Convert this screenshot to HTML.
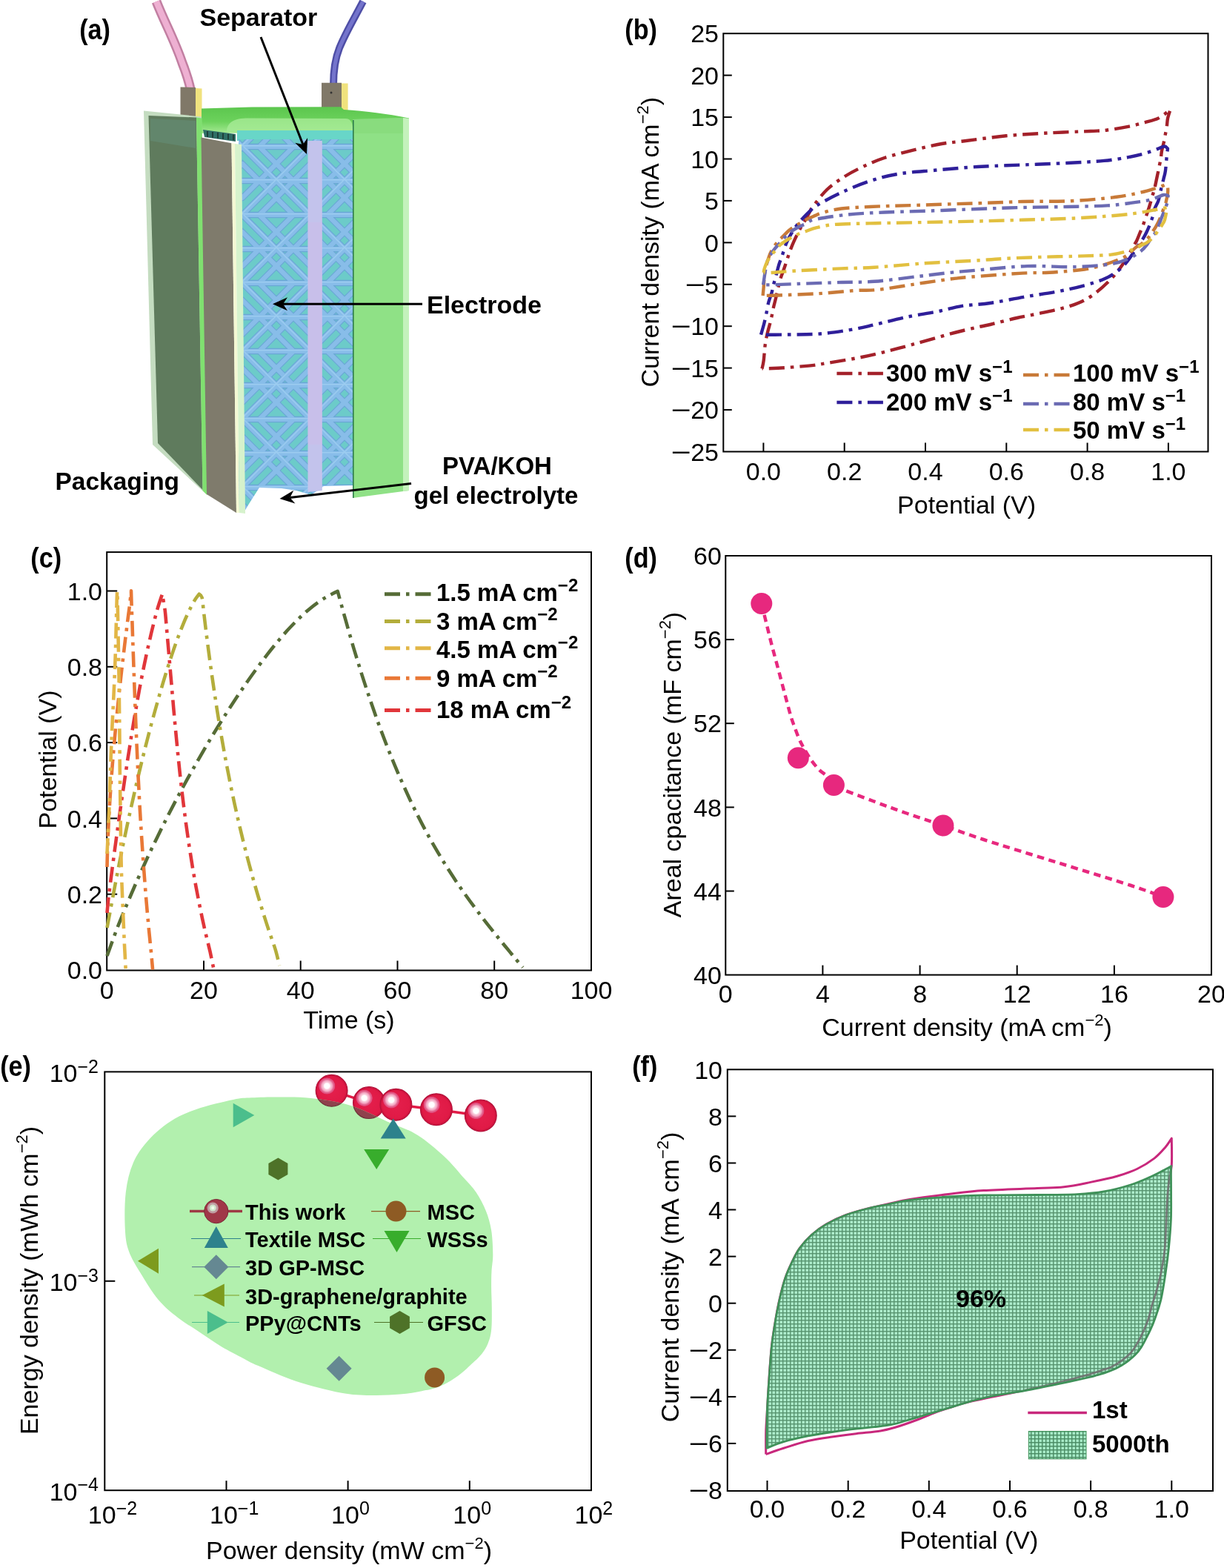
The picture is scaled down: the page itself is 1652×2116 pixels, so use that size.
<!DOCTYPE html>
<html><head><meta charset="utf-8"><title>Figure</title>
<style>html,body{margin:0;padding:0;background:#fff;}svg{display:block;}</style>
</head><body>
<svg xmlns="http://www.w3.org/2000/svg" width="1652" height="2116" viewBox="0 0 1652 2116" font-family='"Liberation Sans", Arial, Helvetica, sans-serif'>
<rect width="1652" height="2116" fill="#fff"/>
<defs>
<pattern id="latt" patternUnits="userSpaceOnUse" width="92" height="92" x="327" y="198">
<rect width="92" height="92" fill="#6ccbc9"/>
<g stroke="#6aa7d6" stroke-width="8.5" stroke-linecap="round" fill="none">
<path d="M0 0L92 92M92 0L0 92M0 0H92M0 46H92M0 92H92"/>
<path d="M0 23L69 92M23 0L92 69M0 69L69 0M23 92L92 23M-23 0L23 46"/>
</g>
<g stroke="#88bde9" stroke-width="6.2" stroke-linecap="round" fill="none">
<path d="M0 0L92 92M92 0L0 92M0 0H92M0 46H92M0 92H92"/>
<path d="M0 23L69 92M23 0L92 69M0 69L69 0M23 92L92 23"/>
</g>
<g stroke="#a4d4f4" stroke-width="1.4" fill="none" opacity="0.7">
<path d="M1 -1L93 91M91 -1L-1 91M0 44.8H92M0 -1.2H92M0 90.8H92"/>
</g>
</pattern>
<linearGradient id="lid" x1="0" y1="0" x2="0" y2="1">
<stop offset="0" stop-color="#5cc64e"/><stop offset="0.55" stop-color="#6cd25c"/><stop offset="1" stop-color="#a6ea94"/>
</linearGradient>
<linearGradient id="pinkw" x1="0" y1="0" x2="1" y2="0">
<stop offset="0" stop-color="#c58aa8"/><stop offset="0.45" stop-color="#f3b6d6"/><stop offset="1" stop-color="#c58aa8"/>
</linearGradient>
</defs>
<path d="M211 2C222 30 236 55 246 85C252 100 255 110 257.5 122" fill="none" stroke="#c27fa2" stroke-width="13"/>
<path d="M211 2C222 30 236 55 246 85C252 100 255 110 257.5 122" fill="none" stroke="#eeb0d2" stroke-width="8"/>
<path d="M490 2C478 25 466 45 458 65C452 80 450 95 450 115" fill="none" stroke="#4e4ea6" stroke-width="10"/>
<path d="M490 2C478 25 466 45 458 65C452 80 450 95 450 115" fill="none" stroke="#7474cc" stroke-width="5"/>
<polygon points="243.5,117.5 264,118 264,162 243.5,160" fill="#807868" />
<polygon points="264,119 272.5,119.5 272.5,165 264,163" fill="#f0e27e" />
<polygon points="434,111.7 461,111.7 461,148 434,148" fill="#807868" />
<polygon points="461,112.5 469.6,112.5 469.6,150 461,150" fill="#f0e27e" />
<circle cx="447" cy="125" r="1.5" fill="#333"/>
<path d="M272 146.5L340 144.5L460 144.3L464 148C490 150 520 152.5 552 159.5L552 178L272 180Z" fill="url(#lid)"/>
<path d="M306 178C306 168 312 160 332 159.5L466 160C474 160 476 166 476 176Z" fill="#a4ea94" opacity="0.85"/>
<polygon points="320,176 477,176 477,190 320,190" fill="#68d6c8" />
<polygon points="322,188 477,188 477,655 437,656 420,668 400,662 380,659 350,658 336,680 330,690 322,692" fill="url(#latt)" />
<polygon points="274,175 318,181 318,191 276,185" fill="#2f6f66" />
<line x1="280" y1="177" x2="280" y2="185" stroke="#1f3f3a" stroke-width="2" />
<line x1="287" y1="177.9" x2="287" y2="185.9" stroke="#1f3f3a" stroke-width="2" />
<line x1="294" y1="178.8" x2="294" y2="186.8" stroke="#1f3f3a" stroke-width="2" />
<line x1="301" y1="179.7" x2="301" y2="187.7" stroke="#1f3f3a" stroke-width="2" />
<line x1="308" y1="180.6" x2="308" y2="188.6" stroke="#1f3f3a" stroke-width="2" />
<line x1="315" y1="181.5" x2="315" y2="189.5" stroke="#1f3f3a" stroke-width="2" />
<polygon points="415.5,190 434.8,190 434.8,662 415.5,664" fill="#c3c3ec" />
<rect x="415.5" y="300" width="19.3" height="300" fill="#d0b8e8" opacity="0.35"/>
<polygon points="476,161 544,159 552,160 552,662 476,672" fill="#8fe186" />
<polygon points="544,159 552,160 552,662 544,663" fill="#c4f2bc" />
<polygon points="476,161 544,159 544,180 476,180" fill="#86d87a" opacity="0.6"/>
<line x1="476.8" y1="162" x2="476.8" y2="672" stroke="#2d7b4c" stroke-width="1.6" />
<polygon points="194,149.5 272,157.5 279.5,668 206,600" fill="#c4dcc0" />
<polygon points="200.5,156 265,158.5 273.5,661 213,598" fill="#5f7b5d" />
<polygon points="265,158.5 272.5,159.5 279.5,668 273.5,662" fill="#80e070" />
<path d="M203 160L264 163L264 200L203 190Z" fill="#6a9a8a" opacity="0.35"/>
<polygon points="271.5,185.5 312.5,193.3 319,692 279,667" fill="#7f7b6c" />
<polygon points="312.5,193 317,194 323,692 319,692" fill="#f4f8d4" />
<polygon points="317,194 326,195 331,693 323,692" fill="#d6f2cc" />
<line x1="352" y1="50" x2="408.9" y2="195" stroke="#000" stroke-width="3" />
<path d="M414 208 L398.3 192.7 L408.9 195 L415.1 186.1 Z" fill="#000"/>
<line x1="570" y1="410.3" x2="382" y2="410.3" stroke="#000" stroke-width="3" />
<path d="M368 410.3 L388 401.3 L382 410.3 L388 419.3 Z" fill="#000"/>
<line x1="555" y1="652.5" x2="391.4" y2="671.4" stroke="#000" stroke-width="3" />
<path d="M377.5 673 L396.3 661.8 L391.4 671.4 L398.4 679.6 Z" fill="#000"/>
<text transform="translate(107.2 52.6) scale(0.9 1)" font-size="38" font-weight="bold">(a)</text>
<text x="269.5" y="34.7" font-size="34" text-anchor="start" font-weight="bold" >Separator</text>
<text x="576" y="423.1" font-size="34" text-anchor="start" font-weight="bold" >Electrode</text>
<text x="597" y="640" font-size="33" text-anchor="start" font-weight="bold" >PVA/KOH</text>
<text x="558.5" y="680" font-size="33" text-anchor="start" font-weight="bold" >gel electrolyte</text>
<text x="74.5" y="660.5" font-size="33.5" text-anchor="start" font-weight="bold" >Packaging</text>
<text transform="translate(843.3 52.6) scale(0.9 1)" font-size="38" font-weight="bold">(b)</text>
<line x1="976.3" y1="553.1" x2="987.8" y2="553.1" stroke="#000" stroke-width="2" />
<line x1="976.3" y1="496.6" x2="987.8" y2="496.6" stroke="#000" stroke-width="2" />
<line x1="976.3" y1="440.2" x2="987.8" y2="440.2" stroke="#000" stroke-width="2" />
<line x1="976.3" y1="383.8" x2="987.8" y2="383.8" stroke="#000" stroke-width="2" />
<line x1="976.3" y1="327.4" x2="987.8" y2="327.4" stroke="#000" stroke-width="2" />
<line x1="976.3" y1="270.9" x2="987.8" y2="270.9" stroke="#000" stroke-width="2" />
<line x1="976.3" y1="214.5" x2="987.8" y2="214.5" stroke="#000" stroke-width="2" />
<line x1="976.3" y1="158.1" x2="987.8" y2="158.1" stroke="#000" stroke-width="2" />
<line x1="976.3" y1="101.6" x2="987.8" y2="101.6" stroke="#000" stroke-width="2" />
<text x="970" y="621.7" font-size="34" text-anchor="end">25</text>
<text transform="translate(919.4 621.7) scale(1.37 1)" font-size="34" text-anchor="middle">−</text>
<text x="970" y="565.3" font-size="34" text-anchor="end">20</text>
<text transform="translate(919.4 565.3) scale(1.37 1)" font-size="34" text-anchor="middle">−</text>
<text x="970" y="508.8" font-size="34" text-anchor="end">15</text>
<text transform="translate(919.4 508.8) scale(1.37 1)" font-size="34" text-anchor="middle">−</text>
<text x="970" y="452.4" font-size="34" text-anchor="end">10</text>
<text transform="translate(919.4 452.4) scale(1.37 1)" font-size="34" text-anchor="middle">−</text>
<text x="970" y="396" font-size="34" text-anchor="end">5</text>
<text transform="translate(938.3 396) scale(1.37 1)" font-size="34" text-anchor="middle">−</text>
<text x="970" y="339.6" font-size="34" text-anchor="end" font-weight="normal" >0</text>
<text x="970" y="283.1" font-size="34" text-anchor="end" font-weight="normal" >5</text>
<text x="970" y="226.7" font-size="34" text-anchor="end" font-weight="normal" >10</text>
<text x="970" y="170.3" font-size="34" text-anchor="end" font-weight="normal" >15</text>
<text x="970" y="113.8" font-size="34" text-anchor="end" font-weight="normal" >20</text>
<text x="970" y="57.4" font-size="34" text-anchor="end" font-weight="normal" >25</text>
<line x1="1030.4" y1="609.5" x2="1030.4" y2="597.5" stroke="#000" stroke-width="2" />
<text x="1030.4" y="648.3" font-size="34" text-anchor="middle" font-weight="normal" >0.0</text>
<line x1="1139.7" y1="609.5" x2="1139.7" y2="597.5" stroke="#000" stroke-width="2" />
<text x="1139.7" y="648.3" font-size="34" text-anchor="middle" font-weight="normal" >0.2</text>
<line x1="1249" y1="609.5" x2="1249" y2="597.5" stroke="#000" stroke-width="2" />
<text x="1249" y="648.3" font-size="34" text-anchor="middle" font-weight="normal" >0.4</text>
<line x1="1358.3" y1="609.5" x2="1358.3" y2="597.5" stroke="#000" stroke-width="2" />
<text x="1358.3" y="648.3" font-size="34" text-anchor="middle" font-weight="normal" >0.6</text>
<line x1="1467.6" y1="609.5" x2="1467.6" y2="597.5" stroke="#000" stroke-width="2" />
<text x="1467.6" y="648.3" font-size="34" text-anchor="middle" font-weight="normal" >0.8</text>
<line x1="1576.9" y1="609.5" x2="1576.9" y2="597.5" stroke="#000" stroke-width="2" />
<text x="1576.9" y="648.3" font-size="34" text-anchor="middle" font-weight="normal" >1.0</text>
<rect x="976.3" y="45.2" width="654.2" height="564.3" fill="none" stroke="#000" stroke-width="2"/>
<text x="1304.6" y="693" font-size="34" text-anchor="middle" font-weight="normal" >Potential (V)</text>
<text transform="translate(888.7 326.7) rotate(-90)" font-size="34" text-anchor="middle">Current density (mA cm<tspan font-size="22" dy="-14">−2</tspan><tspan dy="14">)</tspan></text>
<g>
<path d="M1028.5 497.4C1028.9 495.6 1030 491.9 1030.7 486.5C1031.4 481.1 1031.9 471.1 1032.8 464.8C1033.7 458.5 1034.7 453.9 1036 448.5C1037.3 443.1 1039.1 437.6 1040.4 432.2C1041.7 426.8 1042.6 420.8 1043.7 415.9C1044.8 411 1045.9 407.3 1047 402.8C1048.1 398.3 1049.1 393.2 1050.2 388.7C1051.3 384.2 1052.2 379.9 1053.5 375.7C1054.8 371.5 1056.5 367.5 1057.8 363.7C1059.1 359.9 1060.3 356.6 1061.6 352.8C1062.9 349 1063.7 345.6 1065.4 340.9C1067.1 336.2 1069.6 329.9 1072 324.6C1074.4 319.3 1077.3 313.7 1079.6 309.3C1081.9 304.9 1083.8 302.3 1086 298.5C1088.2 294.7 1090.8 289.8 1092.6 286.5C1094.4 283.2 1093.1 284.1 1097 279C1100.9 273.9 1108.9 262.8 1116 256C1123.1 249.2 1131.4 243.7 1139.5 238.5C1147.6 233.3 1155.6 229.2 1164.6 225C1173.6 220.8 1182.4 216.7 1193.7 213C1205 209.3 1219.5 205.8 1232.4 202.6C1245.3 199.4 1259.7 196 1271 194C1282.3 192 1285.5 192.3 1300 190.5C1314.5 188.7 1338.7 185.2 1358 183.3C1377.3 181.5 1397 180.5 1416 179.4C1435 178.3 1459.2 177.6 1472 177C1484.8 176.4 1484.3 176.8 1493 175.7C1501.7 174.6 1515.3 172.3 1523.9 170.6C1532.5 168.9 1537.8 167.3 1544.5 165.4C1551.2 163.5 1558 162.3 1563.8 159.4C1569.6 156.5 1577 149.8 1579.6 147.9C1579 149.9 1576.8 156.1 1576 160C1575.2 163.9 1575.3 167.8 1574.7 171.5C1574.1 175.2 1573.3 178.8 1572.6 182.4C1571.9 186 1571.3 189.8 1570.5 193.3C1569.7 196.8 1568.6 200.4 1568 203.6C1567.4 206.8 1567.4 209.3 1566.9 212.6C1566.4 215.9 1565.6 219.4 1564.8 223.5C1564 227.6 1563.1 231.9 1562 237C1560.9 242.1 1559.5 249.4 1558.4 253.9C1557.3 258.4 1556.4 260.7 1555.4 264.2C1554.4 267.7 1553.3 271.7 1552.3 275.1C1551.3 278.5 1550.3 281.8 1549.3 284.8C1548.3 287.8 1547.4 290.1 1546.3 293.3C1545.2 296.5 1544 300.7 1542.7 304.2C1541.4 307.7 1539.8 311.1 1538.4 314.5C1537 317.9 1535.6 321.8 1534.2 324.7C1532.8 327.6 1532.7 327.3 1530 332C1527.3 336.7 1523 345.3 1518 352.7C1513 360.1 1507.3 368.4 1499.7 376.3C1492.1 384.2 1481.6 393.8 1472.5 399.9C1463.4 405.9 1455.9 409 1445.3 412.6C1434.7 416.2 1421.1 419 1409 421.7C1396.9 424.4 1384.7 426.3 1372.6 429C1360.5 431.7 1345.2 435.9 1336.3 438C1327.4 440.1 1326.7 439.9 1319 441.7C1311.3 443.4 1302.1 445.4 1290.2 448.5C1278.3 451.6 1260.5 456.8 1247.8 460.3C1235.1 463.8 1224.5 466.9 1213.9 469.7C1203.3 472.5 1194 475 1184.2 477.3C1174.4 479.6 1166.4 481.4 1155 483.5C1143.6 485.6 1126.6 488.3 1116 490C1105.4 491.7 1102.5 492.5 1091.5 493.6C1080.5 494.7 1060.5 496.2 1050 496.8C1039.5 497.4 1032.1 497.3 1028.5 497.4" fill="none" stroke="#a3212a" stroke-width="4.4" stroke-dasharray="21 8 4.5 8"  stroke-linejoin="round"/>
<path d="M1027 451.7C1027.6 449.5 1029.5 443.2 1030.7 438.7C1031.9 434.2 1032.9 429.7 1034 424.6C1035.1 419.5 1036 413.2 1037.2 408.3C1038.5 403.4 1040.4 399 1041.5 395.2C1042.6 391.4 1042.8 389 1043.7 385.4C1044.6 381.8 1045.7 378.2 1047 373.5C1048.3 368.8 1049.9 361.9 1051.3 357.2C1052.7 352.5 1054 349.9 1055.6 345.2C1057.2 340.5 1059 333.9 1061 329C1063 324.1 1065 320.3 1067.6 315.9C1070.1 311.5 1073.4 306.6 1076.3 302.8C1079.2 299 1082.1 296.1 1085 293C1087.9 289.9 1090.8 287 1093.7 284.3C1096.7 281.6 1095.7 281.1 1102.7 277C1109.7 272.9 1123.7 265.2 1135.6 259.8C1147.5 254.4 1161.1 248.5 1174 244.3C1186.9 240.1 1198.4 237 1213 234.6C1227.6 232.2 1243.7 231.4 1261.5 229.8C1279.3 228.2 1299.8 226.2 1319.6 225C1339.3 223.8 1359.9 223.3 1380 222.5C1400.1 221.7 1421.7 220.9 1440 220C1458.3 219.1 1476.3 218.2 1490 216.9C1503.7 215.6 1513.2 213.8 1522 212.3C1530.8 210.8 1536 209.7 1542.7 207.8C1549.4 205.9 1557.2 202.8 1562 201.1C1566.8 199.4 1569.4 197.6 1571.7 197.5C1574 197.4 1575.3 200 1576 200.5C1575.8 202.3 1575.2 206.3 1574.7 211.4C1574.2 216.5 1573.6 225.8 1572.9 230.8C1572.2 235.8 1571.4 237.4 1570.5 241.2C1569.6 244.9 1568.3 250 1567.5 253.3C1566.7 256.6 1566.4 258.2 1565.7 261.2C1565 264.2 1564.5 268 1563.2 271.5C1561.9 275 1559.4 278.8 1558.1 282.4C1556.8 286 1556.5 289.8 1555.4 293.3C1554.3 296.8 1552.9 300.5 1551.7 303.6C1550.5 306.7 1549.5 309.1 1548.1 312C1546.7 314.9 1545.3 317.9 1543.3 321.1C1541.3 324.3 1539.6 326.1 1536 331.4C1532.4 336.7 1526 347 1521.5 352.7C1517 358.4 1513.9 361.5 1508.8 365.4C1503.7 369.3 1498.3 373 1490.7 376.3C1483.1 379.6 1474 382.4 1463.4 385.3C1452.8 388.2 1440.6 390.9 1427 393.5C1413.4 396.1 1396.8 398.2 1381.7 400.8C1366.6 403.4 1350.2 407 1336.3 409C1322.4 411 1310.5 411 1298.6 412.9C1286.7 414.8 1277.4 418 1264.7 420.5C1252 423 1236.5 425.1 1222.4 428.1C1208.3 431.1 1191.2 435.7 1180 438.3C1168.8 440.9 1165.7 441.9 1155 443.8C1144.3 445.7 1127.1 448.4 1116 449.6C1104.9 450.8 1100 450.9 1088.3 451.2C1076.6 451.5 1056.1 451.6 1045.9 451.7C1035.7 451.8 1030.2 451.7 1027 451.7" fill="none" stroke="#2f1f9a" stroke-width="4.4" stroke-dasharray="21 8 4.5 8"  stroke-linejoin="round"/>
<path d="M1029.6 399C1029.8 397.1 1030.3 392 1030.7 387.6C1031.1 383.2 1031.2 377.1 1031.7 372.4C1032.2 367.7 1032.8 363.8 1033.9 359.3C1035 354.8 1036.7 349.4 1038.3 345.2C1039.9 341 1041.7 337.6 1043.7 334.3C1045.7 331.1 1048 328.2 1050.2 325.7C1052.4 323.2 1054.4 321.5 1056.7 319.1C1059 316.7 1061.6 313.9 1064.3 311.5C1067 309.1 1070.3 306.8 1073 305C1075.7 303.2 1077.8 302.3 1080.7 300.7C1083.6 299.1 1087.2 296.8 1090.4 295.2C1093.7 293.6 1096.9 292.3 1100.2 290.9C1103.5 289.5 1104.1 288.6 1110 287C1115.9 285.4 1124.9 282.8 1135.6 281.5C1146.3 280.2 1157.9 279.8 1174 279C1190.1 278.2 1208.1 277.8 1232.4 277C1256.7 276.2 1295 275.1 1319.6 274.3C1344.2 273.5 1359.9 272.5 1380 272C1400.1 271.5 1421.7 272.1 1440 271.4C1458.3 270.7 1478.8 268.8 1490 267.8C1501.2 266.9 1500.5 266.6 1507 265.7C1513.5 264.8 1521.9 263.5 1528.7 262.1C1535.5 260.8 1543.1 258.9 1548.1 257.6C1553 256.3 1555 255.6 1558.4 254.5C1561.8 253.4 1566.1 251.8 1568.7 250.9C1571.3 250 1572.9 248.8 1574.1 249.1C1575.3 249.4 1575.7 250.7 1576 252.7C1576.3 254.7 1576.4 257.8 1576 261.2C1575.6 264.6 1573.9 271.3 1573.5 273.3C1572.2 276.8 1568 288.9 1565.7 294.5C1563.4 300.1 1561.2 303.7 1559.6 306.6C1558 309.5 1557.5 309.8 1556 312C1554.5 314.2 1552.9 317.2 1550.5 319.9C1548.1 322.6 1544.5 326 1541.5 328.4C1538.5 330.8 1535.7 331.7 1532.4 334.4C1529.1 337.1 1525.4 341.8 1521.5 344.5C1517.6 347.2 1513.9 348.7 1508.8 350.8C1503.7 352.9 1495.8 355.6 1490.7 357.2C1485.6 358.8 1483.5 359.4 1478 360.6C1472.5 361.8 1468 363 1457.7 364.2C1447.4 365.4 1429.2 367.1 1416.3 367.8C1403.3 368.5 1397.3 367.7 1380 368.6C1362.7 369.6 1327.2 372.3 1312.2 373.5C1297.2 374.7 1300.9 374.3 1290.2 375.6C1279.5 376.9 1265.2 379 1247.8 381.5C1230.4 384 1201.5 389.1 1186 390.8C1170.5 392.6 1166.7 391.2 1155 392C1143.3 392.8 1126.4 394.6 1116 395.4C1105.6 396.2 1103.6 396.3 1092.6 396.8C1081.6 397.3 1060.7 398.1 1050.2 398.5C1039.7 398.9 1033 398.9 1029.6 399" fill="none" stroke="#c87a38" stroke-width="4.4" stroke-dasharray="21 8 4.5 8"  stroke-linejoin="round"/>
<path d="M1030.1 384.3C1030.4 382.5 1031.2 377.1 1031.7 373.5C1032.2 369.9 1032.7 366.2 1033.4 362.6C1034.1 359 1034.8 355 1036 351.7C1037.2 348.4 1038.8 345.7 1040.4 343C1042.1 340.3 1043.7 338.1 1045.9 335.4C1048.1 332.7 1050.8 329.8 1053.5 326.7C1056.2 323.6 1059.3 319.7 1062.2 317C1065.1 314.3 1068.2 312.2 1070.9 310.4C1073.6 308.6 1075.6 307.4 1078.5 306C1081.4 304.6 1084.7 303.4 1088.3 301.7C1091.9 300 1090.5 298 1100 296C1109.5 294 1129.4 291.1 1145 289.5C1160.6 287.9 1175.9 287.3 1193.7 286.5C1211.5 285.7 1231 285.4 1252 284.6C1273 283.9 1298.3 282.8 1319.6 282C1340.9 281.2 1359.9 280.5 1380 280C1400.1 279.5 1420.9 279.4 1440 279C1459.1 278.6 1480.4 278.2 1494.8 277.4C1509.2 276.5 1517.7 275 1526.3 273.9C1534.9 272.8 1541.3 271.9 1546.6 270.9C1551.8 269.9 1553.8 269.1 1557.8 267.8C1561.8 266.5 1567.4 263.6 1570.5 263C1573.6 262.4 1575.6 264 1576.6 264.2C1576.5 265.2 1576.4 268.1 1576 270.3C1575.6 272.5 1575.5 273.5 1574.1 277.5C1572.7 281.5 1569.3 289.8 1567.5 294.5C1565.7 299.2 1564.5 302.8 1563.2 306C1561.9 309.2 1560.9 311.7 1559.6 313.8C1558.3 315.9 1557.4 315.9 1555.4 318.7C1553.4 321.5 1550.1 327.4 1547.5 330.8C1544.9 334.2 1543.7 336 1539.7 339C1535.7 342 1530 346.1 1523.4 349C1516.8 351.9 1512.2 354.3 1499.9 356.2C1487.6 358.1 1468.6 359.7 1449.7 360.2C1430.8 360.7 1408.3 358.4 1386.5 359.1C1364.7 359.8 1336.5 363.1 1319 364.6C1301.5 366.1 1295 366.6 1281.7 368C1268.4 369.4 1256.2 371 1239.3 373C1222.3 375 1197.3 378.5 1180 379.8C1162.7 381.1 1152.7 380.5 1135.6 381C1118.5 381.5 1093.2 382.4 1077.5 383C1061.8 383.6 1049.4 384.1 1041.5 384.3C1033.6 384.5 1032 384.3 1030.1 384.3" fill="none" stroke="#6b6bb3" stroke-width="4.4" stroke-dasharray="21 8 4.5 8"  stroke-linejoin="round"/>
<path d="M1030.7 368C1030.9 367.1 1031 365 1031.7 362.6C1032.4 360.2 1033.5 356.8 1035 353.9C1036.5 351 1038.6 347.7 1040.4 345.2C1042.2 342.7 1043.9 341.1 1045.9 338.7C1047.9 336.3 1049.9 333.4 1052.4 331C1054.9 328.6 1057.9 326.6 1061 324.6C1064.1 322.6 1067.8 320.7 1070.9 319.1C1074 317.5 1076.5 316.1 1079.6 314.8C1082.7 313.5 1085.5 312.8 1089.3 311.5C1093.1 310.2 1096.3 308.6 1102.4 307.2C1108.5 305.8 1114.1 304 1126 303C1137.9 302 1156.3 301.8 1174 301.4C1191.7 300.9 1208.1 300.8 1232.4 300.3C1256.7 299.8 1295 299.1 1319.6 298.5C1344.2 297.9 1359.9 297.3 1380 296.7C1400.1 296.1 1421.7 295.8 1440 295C1458.3 294.2 1475.2 293.1 1490 292C1504.8 290.9 1517.1 289.9 1528.7 288.4C1540.3 286.9 1551.8 284.4 1559.6 283C1567.4 281.6 1572.8 280.5 1575.4 280C1575.2 281.2 1574.7 284.3 1574.1 287.2C1573.5 290.1 1572.6 294.9 1571.7 297.5C1570.8 300.1 1570 300.9 1568.7 303C1567.4 305.1 1565.8 307.4 1563.8 310.2C1561.8 313 1559.2 317.1 1556.6 319.9C1554 322.7 1550.7 325.4 1548.1 327.2C1545.5 329 1543.4 329.4 1540.8 330.8C1538.2 332.2 1535.8 334.2 1532.4 335.6C1529 337 1525.8 338 1520.3 339.3C1514.8 340.6 1509.2 342.6 1499.7 343.6C1490.2 344.6 1478.5 344.9 1463.4 345.4C1448.3 345.9 1427.2 346.2 1409 346.8C1390.8 347.4 1370.6 348.1 1354.5 349C1338.4 349.9 1330 350.8 1312.2 351.9C1294.4 352.9 1269.8 353.8 1247.8 355.3C1225.8 356.8 1198.7 359.6 1180 360.8C1161.3 362 1152.7 361.6 1135.6 362.4C1118.5 363.1 1093.4 364.4 1077.5 365.3C1061.6 366.2 1048.2 367.6 1040.4 368C1032.6 368.4 1032.3 368 1030.7 368" fill="none" stroke="#e2c040" stroke-width="4.4" stroke-dasharray="21 8 4.5 8"  stroke-linejoin="round"/>
</g>
<line x1="1129.4" y1="504" x2="1193" y2="504" stroke="#a3212a" stroke-width="4.6" stroke-dasharray="21 8 4.5 8"/>
<text x="1196" y="515.1" font-size="33" font-weight="bold">300 mV s<tspan font-size="24" dy="-12.5">−1</tspan></text>
<line x1="1129.4" y1="543" x2="1193" y2="543" stroke="#2f1f9a" stroke-width="4.6" stroke-dasharray="21 8 4.5 8"/>
<text x="1196" y="554.2" font-size="33" font-weight="bold">200 mV s<tspan font-size="24" dy="-12.5">−1</tspan></text>
<line x1="1381" y1="506" x2="1445" y2="506" stroke="#c87a38" stroke-width="4.6" stroke-dasharray="21 8 4.5 8"/>
<text x="1448" y="515.1" font-size="33" font-weight="bold">100 mV s<tspan font-size="24" dy="-12.5">−1</tspan></text>
<line x1="1381" y1="545" x2="1445" y2="545" stroke="#6b6bb3" stroke-width="4.6" stroke-dasharray="21 8 4.5 8"/>
<text x="1448" y="554.2" font-size="33" font-weight="bold">80 mV s<tspan font-size="24" dy="-12.5">−1</tspan></text>
<line x1="1381" y1="580" x2="1445" y2="580" stroke="#e2c040" stroke-width="4.6" stroke-dasharray="21 8 4.5 8"/>
<text x="1448" y="592" font-size="33" font-weight="bold">50 mV s<tspan font-size="24" dy="-12.5">−1</tspan></text>
<text transform="translate(41.3 765.8) scale(0.9 1)" font-size="38" font-weight="bold">(c)</text>
<line x1="144.2" y1="1206.7" x2="158.2" y2="1206.7" stroke="#000" stroke-width="2" />
<line x1="144.2" y1="1104.4" x2="158.2" y2="1104.4" stroke="#000" stroke-width="2" />
<line x1="144.2" y1="1002.1" x2="158.2" y2="1002.1" stroke="#000" stroke-width="2" />
<line x1="144.2" y1="899.8" x2="158.2" y2="899.8" stroke="#000" stroke-width="2" />
<line x1="144.2" y1="797.5" x2="158.2" y2="797.5" stroke="#000" stroke-width="2" />
<text x="138" y="1321.2" font-size="34" text-anchor="end" font-weight="normal" >0.0</text>
<text x="138" y="1218.9" font-size="34" text-anchor="end" font-weight="normal" >0.2</text>
<text x="138" y="1116.6" font-size="34" text-anchor="end" font-weight="normal" >0.4</text>
<text x="138" y="1014.3" font-size="34" text-anchor="end" font-weight="normal" >0.6</text>
<text x="138" y="912" font-size="34" text-anchor="end" font-weight="normal" >0.8</text>
<text x="138" y="809.7" font-size="34" text-anchor="end" font-weight="normal" >1.0</text>
<line x1="275" y1="1309.5" x2="275" y2="1296.5" stroke="#000" stroke-width="2" />
<line x1="405.7" y1="1309.5" x2="405.7" y2="1296.5" stroke="#000" stroke-width="2" />
<line x1="536.5" y1="1309.5" x2="536.5" y2="1296.5" stroke="#000" stroke-width="2" />
<line x1="667.2" y1="1309.5" x2="667.2" y2="1296.5" stroke="#000" stroke-width="2" />
<text x="144.2" y="1348" font-size="34" text-anchor="middle" font-weight="normal" >0</text>
<text x="275" y="1348" font-size="34" text-anchor="middle" font-weight="normal" >20</text>
<text x="405.7" y="1348" font-size="34" text-anchor="middle" font-weight="normal" >40</text>
<text x="536.5" y="1348" font-size="34" text-anchor="middle" font-weight="normal" >60</text>
<text x="667.2" y="1348" font-size="34" text-anchor="middle" font-weight="normal" >80</text>
<text x="798" y="1348" font-size="34" text-anchor="middle" font-weight="normal" >100</text>
<rect x="144.2" y="745.1" width="653.8" height="564.4" fill="none" stroke="#000" stroke-width="2"/>
<text x="471" y="1388" font-size="34" text-anchor="middle" font-weight="normal" >Time (s)</text>
<text transform="translate(75.7 1025) rotate(-90)" font-size="34" text-anchor="middle">Potential (V)</text>
<path d="M144.5 1290C146.8 1283.8 153.5 1264.7 158 1253C162.5 1241.3 167.1 1230.5 171.6 1219.7C176.1 1208.9 180.6 1198.4 185.1 1188.2C189.6 1178 194.1 1168 198.6 1158.3C203.1 1148.6 207.6 1139.1 212.2 1129.9C216.7 1120.6 221.2 1111.6 225.7 1102.7C230.2 1093.8 234.7 1085.2 239.2 1076.7C243.7 1068.2 248.2 1059.8 252.7 1051.7C257.3 1043.5 261.8 1035.5 266.3 1027.6C270.8 1019.7 275.3 1011.9 279.8 1004.3C284.3 996.7 288.8 989.3 293.3 982C297.8 974.6 302.4 967.4 306.9 960.4C311.4 953.3 315.9 946.4 320.4 939.6C324.9 932.9 329.4 926.2 333.9 919.8C338.4 913.3 342.9 907 347.5 900.8C352 894.7 356.5 888.7 361 882.9C365.5 877.1 370 871.5 374.5 866.1C379 860.7 383.5 855.5 388 850.5C392.6 845.6 397.1 840.9 401.6 836.4C406.1 832 410.6 827.8 415.1 823.9C419.6 820.1 424.1 816.5 428.6 813.3C433.1 810.1 437.7 807.2 442.2 804.7C446.7 802.1 453.4 799 455.7 797.9C457.5 804.4 462.9 824.3 466.6 837.1C470.2 849.9 473.8 862.6 477.4 874.8C481.1 887 484.7 898.7 488.3 910.1C491.9 921.5 495.6 932.6 499.2 943.2C502.8 953.9 506.4 964.2 510 974.2C513.7 984.2 517.3 993.9 520.9 1003.2C524.5 1012.6 528.2 1021.6 531.8 1030.4C535.4 1039.1 539 1047.5 542.7 1055.7C546.3 1063.9 549.9 1071.8 553.5 1079.4C557.1 1087.1 560.8 1094.5 564.4 1101.6C568 1108.8 571.6 1115.7 575.3 1122.4C578.9 1129.1 582.5 1135.6 586.1 1141.9C589.8 1148.3 593.4 1154.3 597 1160.3C600.6 1166.2 604.3 1172 607.9 1177.6C611.5 1183.2 615.1 1188.6 618.7 1194C622.4 1199.3 626 1204.5 629.6 1209.5C633.2 1214.6 636.9 1219.6 640.5 1224.4C644.1 1229.3 647.7 1234.1 651.4 1238.8C655 1243.5 658.6 1248.1 662.2 1252.6C665.8 1257.2 669.5 1261.7 673.1 1266.2C676.7 1270.6 680.3 1275.1 684 1279.5C687.6 1283.9 691.2 1288.4 694.8 1292.7C698.5 1297.1 703.9 1303.4 705.7 1305.5" fill="none" stroke="#566c37" stroke-width="4.6" stroke-dasharray="21 8 4.5 8" stroke-linejoin="round"/>
<path d="M144.5 1252C145.4 1247.2 148.1 1232.9 149.9 1223.4C151.7 1213.8 153.5 1203.9 155.3 1194.5C157.1 1185 158.9 1175.8 160.7 1166.8C162.5 1157.7 164.3 1148.8 166.1 1140.1C167.9 1131.4 169.7 1122.9 171.5 1114.5C173.3 1106.1 175.1 1097.9 176.9 1089.8C178.7 1081.7 180.5 1073.8 182.3 1065.9C184.1 1058.1 185.9 1050.5 187.7 1042.9C189.5 1035.4 191.3 1028 193.1 1020.7C194.9 1013.4 196.7 1006.2 198.5 999.2C200.3 992.2 202.1 985.3 203.9 978.5C205.7 971.7 207.6 965 209.4 958.5C211.2 952 213 945.6 214.8 939.3C216.6 933 218.4 926.9 220.2 920.9C222 914.9 223.8 909 225.6 903.3C227.4 897.6 229.2 892 231 886.6C232.8 881.1 234.6 875.9 236.4 870.8C238.2 865.7 240 860.8 241.8 856C243.6 851.3 245.4 846.7 247.2 842.3C249 838 250.8 833.8 252.6 829.9C254.4 825.9 256.2 822.2 258 818.7C259.8 815.2 261.6 811.8 263.4 809C265.2 806.1 267.9 802.9 268.8 801.7C269.4 802.4 271.5 802.4 272.5 806C273.5 809.6 273.9 816.9 274.7 823.5C275.5 830 276.4 838 277.3 845.3C278.2 852.6 279.1 859.8 280 867.1C281 874.4 281.9 881.6 282.9 888.9C283.9 896.1 284.9 903.4 285.9 910.7C286.9 917.9 288 925.2 289.1 932.5C290.2 939.7 291.3 947 292.4 954.3C293.5 961.5 294.7 968.8 295.9 976.1C297.1 983.3 298.3 990.6 299.6 997.9C300.9 1005.1 302.2 1012.4 303.5 1019.7C304.9 1026.9 306.2 1034.2 307.7 1041.5C309.1 1048.7 310.5 1056 312 1063.2C313.5 1070.5 315.1 1077.8 316.6 1085C318.2 1092.3 319.9 1099.6 321.5 1106.8C323.2 1114.1 324.9 1121.4 326.7 1128.6C328.4 1135.9 330.3 1143.2 332.1 1150.4C334 1157.7 335.9 1165 337.9 1172.2C339.8 1179.5 341.9 1186.8 343.9 1194C346 1201.3 348.1 1208.6 350.3 1215.8C352.5 1223.1 354.7 1230.3 357 1237.6C359.3 1244.9 361.7 1252.1 364.1 1259.4C366.6 1266.7 369.4 1273.9 371.6 1281.2C373.8 1288.5 376.3 1299.4 377.2 1303" fill="none" stroke="#b3ad3b" stroke-width="4.6" stroke-dasharray="21 8 4.5 8" stroke-linejoin="round"/>
<path d="M144.5 1232C144.8 1228.9 145.6 1219.5 146.3 1213.3C147 1207.1 147.8 1200.8 148.6 1194.6C149.4 1188.3 150.2 1182.1 151 1175.9C151.8 1169.6 152.6 1163.4 153.5 1157.2C154.3 1150.9 155.1 1144.7 156 1138.5C156.8 1132.2 157.7 1126 158.6 1119.7C159.4 1113.5 160.3 1107.3 161.2 1101C162.1 1094.8 162.9 1088.6 163.8 1082.3C164.7 1076.1 165.6 1069.9 166.6 1063.6C167.5 1057.4 168.4 1051.1 169.3 1044.9C170.3 1038.7 171.2 1032.4 172.1 1026.2C173.1 1020 174.1 1013.7 175.1 1007.5C176 1001.3 177 995 178 988.8C179.1 982.6 180.1 976.3 181.1 970.1C182.2 963.8 183.3 957.6 184.4 951.4C185.5 945.1 186.6 938.9 187.7 932.7C188.9 926.4 190.1 920.2 191.3 914C192.5 907.7 193.8 901.5 195.1 895.2C196.4 889 197.7 882.8 199.1 876.5C200.5 870.3 201.9 864.1 203.4 857.8C204.8 851.6 206.4 845.4 207.9 839.1C209.5 832.9 211.1 826.6 212.9 820.4C214.7 814.2 218 804.8 219 801.7C219.6 805.4 221.7 816.3 222.7 823.6C223.6 830.9 224 838.2 224.7 845.5C225.3 852.8 226 860.1 226.6 867.4C227.3 874.7 227.9 882 228.5 889.3C229.2 896.6 229.8 903.9 230.4 911.2C231.1 918.5 231.7 925.8 232.3 933.1C233 940.4 233.6 947.7 234.2 955C234.9 962.3 235.5 969.6 236.2 976.9C236.9 984.2 237.6 991.5 238.3 998.8C239 1006.1 239.7 1013.4 240.4 1020.7C241.2 1028 242 1035.3 242.7 1042.6C243.5 1049.9 244.3 1057.3 245.2 1064.6C246 1071.9 246.9 1079.2 247.8 1086.5C248.7 1093.8 249.7 1101.1 250.6 1108.4C251.6 1115.7 252.6 1123 253.7 1130.3C254.7 1137.6 255.8 1144.9 257 1152.2C258.1 1159.5 259.3 1166.8 260.5 1174.1C261.8 1181.4 263.1 1188.7 264.4 1196C265.8 1203.3 267.2 1210.6 268.6 1217.9C270.1 1225.2 271.6 1232.5 273.1 1239.8C274.7 1247.1 276.3 1254.4 278.1 1261.7C279.8 1269 281.7 1276.3 283.4 1283.6C285 1290.9 287.2 1301.8 288 1305.5" fill="none" stroke="#e1363a" stroke-width="4.6" stroke-dasharray="21 8 4.5 8" stroke-linejoin="round"/>
<path d="M144.5 1170C144.6 1167.3 144.7 1159.2 144.9 1153.8C145 1148.4 145.2 1143 145.4 1137.6C145.7 1132.2 145.9 1126.8 146.1 1121.4C146.4 1116 146.6 1110.6 146.9 1105.2C147.2 1099.8 147.5 1094.4 147.8 1089C148.1 1083.6 148.5 1078.2 148.8 1072.7C149.2 1067.3 149.5 1061.9 149.9 1056.5C150.3 1051.1 150.7 1045.7 151.1 1040.3C151.5 1034.9 151.9 1029.5 152.4 1024.1C152.8 1018.7 153.3 1013.3 153.7 1007.9C154.2 1002.5 154.7 997.1 155.2 991.7C155.7 986.3 156.2 980.9 156.7 975.5C157.2 970.1 157.8 964.7 158.3 959.3C158.8 953.9 159.4 948.5 160 943.1C160.5 937.7 161.1 932.3 161.7 926.9C162.3 921.5 162.9 916.1 163.5 910.7C164.1 905.3 164.7 899.9 165.4 894.5C166 889 166.6 883.6 167.3 878.2C167.9 872.8 168.6 867.4 169.2 862C169.9 856.6 170.6 851.2 171.3 845.8C171.9 840.4 172.6 835 173.3 829.6C174 824.2 174.8 818.8 175.4 813.4C176 808 176.7 799.9 177 797.2C177.1 800.9 177.4 812 177.7 819.4C177.9 826.8 178.2 834.3 178.5 841.7C178.7 849.1 179 856.5 179.2 863.9C179.5 871.3 179.7 878.7 180 886.1C180.2 893.5 180.5 900.9 180.8 908.4C181 915.8 181.3 923.2 181.6 930.6C181.9 938 182.1 945.4 182.4 952.8C182.7 960.2 183 967.6 183.3 975C183.6 982.5 183.9 989.9 184.2 997.3C184.5 1004.7 184.9 1012.1 185.2 1019.5C185.5 1026.9 185.9 1034.3 186.2 1041.7C186.6 1049.1 187 1056.6 187.4 1064C187.7 1071.4 188.1 1078.8 188.5 1086.2C189 1093.6 189.4 1101 189.8 1108.4C190.3 1115.8 190.7 1123.2 191.2 1130.7C191.7 1138.1 192.2 1145.5 192.7 1152.9C193.2 1160.3 193.7 1167.7 194.3 1175.1C194.8 1182.5 195.4 1189.9 196 1197.3C196.5 1204.8 197.2 1212.2 197.8 1219.6C198.4 1227 199.1 1234.4 199.8 1241.8C200.4 1249.2 201.1 1256.6 201.9 1264C202.6 1271.4 203.4 1278.9 204.1 1286.3C204.8 1293.7 205.8 1304.8 206.1 1308.5" fill="none" stroke="#e97836" stroke-width="4.6" stroke-dasharray="21 8 4.5 8" stroke-linejoin="round"/>
<path d="M144.5 1152C145 1142.2 146.6 1109.4 147.3 1092.9C148 1076.4 148.1 1069 148.6 1053.2C149.1 1037.4 149.5 1023.7 150.6 998C151.7 972.3 154 931 155.2 899C156.4 867 157.2 822.1 157.8 806C158.4 789.9 158.4 803.1 158.5 802.5C158.8 820.8 160 879.1 160.5 912C161 944.9 161.3 978.7 161.5 1000C161.7 1021.3 161.6 1024.5 161.8 1040C162 1055.5 162.2 1070.9 162.5 1092.9C162.8 1115 163.2 1150.3 163.8 1172.3C164.4 1194.3 165.1 1208.6 165.8 1225.1C166.5 1241.6 167.2 1257.5 167.8 1271.4C168.5 1285.3 169.4 1302.3 169.7 1308.5" fill="none" stroke="#e2b646" stroke-width="4.6" stroke-dasharray="21 8 4.5 8" stroke-linejoin="round"/>
<line x1="519" y1="801.8" x2="581.5" y2="801.8" stroke="#566c37" stroke-width="5" stroke-dasharray="21 8 4.5 8"/>
<text x="589" y="811" font-size="33" font-weight="bold">1.5 mA cm<tspan font-size="24" dy="-13">−2</tspan></text>
<line x1="519" y1="838.6" x2="581.5" y2="838.6" stroke="#b3ad3b" stroke-width="5" stroke-dasharray="21 8 4.5 8"/>
<text x="589" y="850" font-size="33" font-weight="bold">3 mA cm<tspan font-size="24" dy="-13">−2</tspan></text>
<line x1="519" y1="874.8" x2="581.5" y2="874.8" stroke="#e2b646" stroke-width="5" stroke-dasharray="21 8 4.5 8"/>
<text x="589" y="888" font-size="33" font-weight="bold">4.5 mA cm<tspan font-size="24" dy="-13">−2</tspan></text>
<line x1="519" y1="915.3" x2="581.5" y2="915.3" stroke="#e97836" stroke-width="5" stroke-dasharray="21 8 4.5 8"/>
<text x="589" y="927" font-size="33" font-weight="bold">9 mA cm<tspan font-size="24" dy="-13">−2</tspan></text>
<line x1="519" y1="958.5" x2="581.5" y2="958.5" stroke="#e1363a" stroke-width="5" stroke-dasharray="21 8 4.5 8"/>
<text x="589" y="969" font-size="33" font-weight="bold">18 mA cm<tspan font-size="24" dy="-13">−2</tspan></text>
<text transform="translate(843.3 765.8) scale(0.9 1)" font-size="38" font-weight="bold">(d)</text>
<line x1="979.3" y1="1202.5" x2="990.8" y2="1202.5" stroke="#000" stroke-width="2" />
<line x1="979.3" y1="1089.4" x2="990.8" y2="1089.4" stroke="#000" stroke-width="2" />
<line x1="979.3" y1="976.2" x2="990.8" y2="976.2" stroke="#000" stroke-width="2" />
<line x1="979.3" y1="863.1" x2="990.8" y2="863.1" stroke="#000" stroke-width="2" />
<text x="973.8" y="1327.8" font-size="34" text-anchor="end" font-weight="normal" >40</text>
<text x="973.8" y="1214.7" font-size="34" text-anchor="end" font-weight="normal" >44</text>
<text x="973.8" y="1101.6" font-size="34" text-anchor="end" font-weight="normal" >48</text>
<text x="973.8" y="988.4" font-size="34" text-anchor="end" font-weight="normal" >52</text>
<text x="973.8" y="875.3" font-size="34" text-anchor="end" font-weight="normal" >56</text>
<text x="973.8" y="762.2" font-size="34" text-anchor="end" font-weight="normal" >60</text>
<line x1="1110.4" y1="1315.6" x2="1110.4" y2="1302.6" stroke="#000" stroke-width="2" />
<line x1="1241.6" y1="1315.6" x2="1241.6" y2="1302.6" stroke="#000" stroke-width="2" />
<line x1="1372.7" y1="1315.6" x2="1372.7" y2="1302.6" stroke="#000" stroke-width="2" />
<line x1="1503.9" y1="1315.6" x2="1503.9" y2="1302.6" stroke="#000" stroke-width="2" />
<text x="979.3" y="1353" font-size="34" text-anchor="middle" font-weight="normal" >0</text>
<text x="1110.4" y="1353" font-size="34" text-anchor="middle" font-weight="normal" >4</text>
<text x="1241.6" y="1353" font-size="34" text-anchor="middle" font-weight="normal" >8</text>
<text x="1372.7" y="1353" font-size="34" text-anchor="middle" font-weight="normal" >12</text>
<text x="1503.9" y="1353" font-size="34" text-anchor="middle" font-weight="normal" >16</text>
<text x="1635" y="1353" font-size="34" text-anchor="middle" font-weight="normal" >20</text>
<rect x="979.3" y="750" width="655.7" height="565.6" fill="none" stroke="#000" stroke-width="2"/>
<text x="1305" y="1398" font-size="34" text-anchor="middle">Current density (mA cm<tspan font-size="22" dy="-14">−2</tspan><tspan dy="14">)</tspan></text>
<text transform="translate(919 1032) rotate(-90)" font-size="34" text-anchor="middle">Areal cpacitance (mF cm<tspan font-size="22" dy="-14">−2</tspan><tspan dy="14">)</tspan></text>
<path d="M1027.8 814.5C1028.7 818.1 1030.9 827.1 1033.1 836C1035.3 844.9 1038.2 857.2 1041 868C1043.8 878.8 1046.8 889.7 1049.7 900.5C1052.6 911.3 1055.4 922.2 1058.3 933C1061.2 943.8 1064.6 957 1066.9 965C1069.2 973 1070.5 975.7 1072.4 981C1074.3 986.3 1076.5 992.5 1078.5 997C1080.5 1001.5 1081.4 1003.3 1084.1 1008C1086.8 1012.7 1090.9 1020.2 1094.5 1025.3C1098.1 1030.4 1102 1035.1 1105.6 1038.8C1109.2 1042.5 1112.7 1043.9 1116 1047.4C1119.3 1050.9 1115.2 1054.3 1125.6 1059.9C1136 1065.5 1161.7 1074.7 1178.3 1081C1194.9 1087.3 1209.2 1092.5 1225 1098C1240.8 1103.5 1255.8 1108.2 1272.9 1114C1290 1119.8 1301.9 1124.7 1327.6 1133C1353.3 1141.3 1393.9 1153.7 1427.1 1164C1460.3 1174.3 1502.8 1187.2 1526.6 1195C1550.4 1202.8 1562.7 1208 1569.9 1210.6" fill="none" stroke="#e7287e" stroke-width="4.5" stroke-dasharray="9.5 6.5"/>
<circle cx="1027.8" cy="814.5" r="14.5" fill="#e7287e"/>
<circle cx="1077.3" cy="1022.8" r="14.5" fill="#e7287e"/>
<circle cx="1125.4" cy="1059.5" r="14.5" fill="#e7287e"/>
<circle cx="1272.9" cy="1114" r="14.5" fill="#e7287e"/>
<circle cx="1569.9" cy="1210.6" r="14.5" fill="#e7287e"/>
<text transform="translate(0.2 1451.8) scale(0.9 1)" font-size="38" font-weight="bold">(e)</text>
<text x="133" y="1460" font-size="34" text-anchor="end">10<tspan font-size="25" dy="-12.5">−2</tspan></text>
<text x="133" y="1742.4" font-size="34" text-anchor="end">10<tspan font-size="25" dy="-12.5">−3</tspan></text>
<text x="133" y="2024.8" font-size="34" text-anchor="end">10<tspan font-size="25" dy="-12.5">−4</tspan></text>
<line x1="141.3" y1="1728.8" x2="155.3" y2="1728.8" stroke="#000" stroke-width="2" />
<text x="118.8" y="2056" font-size="34">10<tspan font-size="25" dy="-12.5">−2</tspan></text>
<text x="283" y="2056" font-size="34">10<tspan font-size="25" dy="-12.5">−1</tspan></text>
<line x1="305.5" y1="2011.2" x2="305.5" y2="1998.2" stroke="#000" stroke-width="2" />
<text x="447.1" y="2056" font-size="34">10<tspan font-size="25" dy="-12.5">0</tspan></text>
<line x1="469.6" y1="2011.2" x2="469.6" y2="1998.2" stroke="#000" stroke-width="2" />
<text x="611.3" y="2056" font-size="34">10<tspan font-size="25" dy="-12.5">0</tspan></text>
<line x1="633.8" y1="2011.2" x2="633.8" y2="1998.2" stroke="#000" stroke-width="2" />
<text x="775.5" y="2056" font-size="34">10<tspan font-size="25" dy="-12.5">2</tspan></text>
<text x="471" y="2104" font-size="34" text-anchor="middle">Power density (mW cm<tspan font-size="22" dy="-14">−2</tspan><tspan dy="14">)</tspan></text>
<text transform="translate(50.7 1728) rotate(-90)" font-size="34" text-anchor="middle">Energy density (mWh cm<tspan font-size="22" dy="-14">−2</tspan><tspan dy="14">)</tspan></text>
<defs>
<radialGradient id="sph" cx="0.5" cy="0.5" r="0.5">
<stop offset="0" stop-color="#e41f4c"/><stop offset="0.85" stop-color="#e01a46"/><stop offset="1" stop-color="#c8103a"/>
</radialGradient>
<radialGradient id="hl" cx="0.5" cy="0.5" r="0.5">
<stop offset="0" stop-color="#ffffff"/><stop offset="0.3" stop-color="#ffffff"/><stop offset="0.42" stop-color="#fad0de"/>
<stop offset="0.62" stop-color="#f2a6c2"/><stop offset="0.78" stop-color="#e46690"/><stop offset="0.93" stop-color="#e0497a"/>
<stop offset="1" stop-color="#e02050" stop-opacity="0"/>
</radialGradient>
<clipPath id="eclip"><rect x="141.3" y="1446.4" width="656.7" height="564.8"/></clipPath>
</defs>
<polyline points="447.6,1471.8 498,1488.1 534.4,1490.8 588.9,1497.2 648.8,1505.4" fill="none" stroke="#e11c47" stroke-width="3.5"/>
<circle cx="447.6" cy="1471.8" r="21.4" fill="url(#sph)" stroke="#b3123a" stroke-width="1.2"/>
<circle cx="441.3" cy="1465.5" r="11.5" fill="url(#hl)"/>
<circle cx="498" cy="1488.1" r="21.4" fill="url(#sph)" stroke="#b3123a" stroke-width="1.2"/>
<circle cx="491.7" cy="1481.8" r="11.5" fill="url(#hl)"/>
<circle cx="534.4" cy="1490.8" r="21.4" fill="url(#sph)" stroke="#b3123a" stroke-width="1.2"/>
<circle cx="528.1" cy="1484.5" r="11.5" fill="url(#hl)"/>
<circle cx="588.9" cy="1497.2" r="21.4" fill="url(#sph)" stroke="#b3123a" stroke-width="1.2"/>
<circle cx="582.6" cy="1490.9" r="11.5" fill="url(#hl)"/>
<circle cx="648.8" cy="1505.4" r="21.4" fill="url(#sph)" stroke="#b3123a" stroke-width="1.2"/>
<circle cx="642.5" cy="1499.1" r="11.5" fill="url(#hl)"/>
<defs><clipPath id="blobclip"><path d="M229.4 1513.7C240.3 1506.6 250.8 1502 265 1497C279.2 1492 302.2 1486.6 314.7 1484C327.2 1481.4 329 1481.9 339.8 1481.3C350.6 1480.7 366.3 1480.4 379.7 1480.5C393.1 1480.6 404.5 1480.1 420 1482C435.5 1483.9 454.8 1486.2 472.6 1491.7C490.4 1497.2 511.9 1508.6 527 1515.3C542.1 1522 551.3 1524.1 563.4 1531.7C575.5 1539.3 589.2 1551 599.7 1560.7C610.2 1570.4 619.2 1582 626.4 1590C633.5 1598 637.7 1601.7 642.6 1609C647.5 1616.3 652.4 1625.5 655.8 1634C659.2 1642.5 661.5 1650.5 663.1 1660.3C664.7 1670.1 665.2 1683.5 665.3 1692.6C665.4 1701.7 663.9 1707.7 663.5 1715C663.1 1722.3 663.1 1728 663.1 1736.5C663.1 1745 663.8 1756 663.8 1765.8C663.8 1775.6 664 1787.3 663.1 1795.1C662.2 1802.9 660.9 1807.3 658.7 1812.7C656.5 1818.1 653.6 1822.8 649.9 1827.4C646.2 1832 641.4 1836.1 636.7 1840.5C632.1 1844.9 627.4 1849.5 622 1853.7C616.6 1857.9 610.1 1862.3 604.5 1865.5C598.9 1868.7 594.3 1870.8 588.4 1872.8C582.5 1874.8 577.4 1875.7 569.3 1877.2C561.2 1878.7 551.5 1880.6 540 1881.6C528.5 1882.6 513.4 1883.3 500 1883C486.6 1882.7 476.3 1882.7 459.6 1879.5C442.9 1876.3 418.2 1870.1 399.7 1864C381.2 1857.9 360.2 1848.2 348.4 1843.1C336.5 1838 336.9 1837.5 328.6 1833.2C320.3 1828.9 308.7 1823.2 298.8 1817.3C288.9 1811.3 278.9 1804.1 269 1797.5C259.1 1790.9 248.6 1784.9 239.3 1777.6C230.1 1770.3 221.8 1763.7 213.5 1753.8C205.2 1743.9 196.3 1729 189.7 1718.1C183.1 1707.2 177.3 1698.2 173.8 1688.3C170.3 1678.4 169.5 1671.8 168.8 1658.6C168.1 1645.4 168 1623.9 169.8 1609C171.6 1594.1 174.8 1580.9 179.8 1569.3C184.8 1557.7 191.3 1548.8 199.6 1539.5C207.9 1530.2 218.5 1520.8 229.4 1513.7Z"/></clipPath></defs>
<path d="M229.4 1513.7C240.3 1506.6 250.8 1502 265 1497C279.2 1492 302.2 1486.6 314.7 1484C327.2 1481.4 329 1481.9 339.8 1481.3C350.6 1480.7 366.3 1480.4 379.7 1480.5C393.1 1480.6 404.5 1480.1 420 1482C435.5 1483.9 454.8 1486.2 472.6 1491.7C490.4 1497.2 511.9 1508.6 527 1515.3C542.1 1522 551.3 1524.1 563.4 1531.7C575.5 1539.3 589.2 1551 599.7 1560.7C610.2 1570.4 619.2 1582 626.4 1590C633.5 1598 637.7 1601.7 642.6 1609C647.5 1616.3 652.4 1625.5 655.8 1634C659.2 1642.5 661.5 1650.5 663.1 1660.3C664.7 1670.1 665.2 1683.5 665.3 1692.6C665.4 1701.7 663.9 1707.7 663.5 1715C663.1 1722.3 663.1 1728 663.1 1736.5C663.1 1745 663.8 1756 663.8 1765.8C663.8 1775.6 664 1787.3 663.1 1795.1C662.2 1802.9 660.9 1807.3 658.7 1812.7C656.5 1818.1 653.6 1822.8 649.9 1827.4C646.2 1832 641.4 1836.1 636.7 1840.5C632.1 1844.9 627.4 1849.5 622 1853.7C616.6 1857.9 610.1 1862.3 604.5 1865.5C598.9 1868.7 594.3 1870.8 588.4 1872.8C582.5 1874.8 577.4 1875.7 569.3 1877.2C561.2 1878.7 551.5 1880.6 540 1881.6C528.5 1882.6 513.4 1883.3 500 1883C486.6 1882.7 476.3 1882.7 459.6 1879.5C442.9 1876.3 418.2 1870.1 399.7 1864C381.2 1857.9 360.2 1848.2 348.4 1843.1C336.5 1838 336.9 1837.5 328.6 1833.2C320.3 1828.9 308.7 1823.2 298.8 1817.3C288.9 1811.3 278.9 1804.1 269 1797.5C259.1 1790.9 248.6 1784.9 239.3 1777.6C230.1 1770.3 221.8 1763.7 213.5 1753.8C205.2 1743.9 196.3 1729 189.7 1718.1C183.1 1707.2 177.3 1698.2 173.8 1688.3C170.3 1678.4 169.5 1671.8 168.8 1658.6C168.1 1645.4 168 1623.9 169.8 1609C171.6 1594.1 174.8 1580.9 179.8 1569.3C184.8 1557.7 191.3 1548.8 199.6 1539.5C207.9 1530.2 218.5 1520.8 229.4 1513.7Z" fill="#b2f0ae"/>
<g clip-path="url(#blobclip)">
<circle cx="447.6" cy="1471.8" r="21.4" fill="#8f424d" stroke="#6e3238" stroke-width="1.2"/>
<circle cx="498" cy="1488.1" r="21.4" fill="#8f424d" stroke="#6e3238" stroke-width="1.2"/>
<circle cx="534.4" cy="1490.8" r="21.4" fill="#8f424d" stroke="#6e3238" stroke-width="1.2"/>
<circle cx="588.9" cy="1497.2" r="21.4" fill="#8f424d" stroke="#6e3238" stroke-width="1.2"/>
<circle cx="648.8" cy="1505.4" r="21.4" fill="#8f424d" stroke="#6e3238" stroke-width="1.2"/>
</g>
<line x1="256" y1="1634.6" x2="327" y2="1634.6" stroke="#9e3a44" stroke-width="3.5" />
<circle cx="291.8" cy="1634.6" r="16.2" fill="#a03848" stroke="#7a2a36" stroke-width="1"/>
<circle cx="287.2" cy="1630" r="7.6" fill="#c09ca2"/>
<circle cx="287.2" cy="1630" r="4.6" fill="#cfe6cc"/>
<circle cx="287.2" cy="1630" r="2.2" fill="#eefbea"/>
<polygon points="343.3,1505 314.7,1488.7 314.7,1521.3" fill="#4bbe8c"/>
<polygon points="530.7,1509.5 547.7,1536.5 513.7,1536.5" fill="#2d828c"/>
<polygon points="508.2,1578 525.2,1551 491.2,1551" fill="#38ad2c"/>
<polygon points="375.4,1562.5 362.4,1570 362.4,1585 375.4,1592.5 388.4,1585 388.4,1570" fill="#4e7228"/>
<polygon points="186,1701.7 214,1684.7 214,1718.7" fill="#7d9b1e"/>
<polygon points="457.6,1829.7 474.6,1846.7 457.6,1863.7 440.6,1846.7" fill="#658892"/>
<circle cx="586.6" cy="1858.9" r="13.5" fill="#8e5b24"/>
<line x1="501" y1="1634.6" x2="567" y2="1634.6" stroke="#8e5b24" stroke-width="1.2" />
<circle cx="534.5" cy="1634.6" r="14" fill="#8e5b24"/>
<line x1="258" y1="1671.5" x2="325" y2="1671.5" stroke="#2d828c" stroke-width="1.2" />
<polygon points="291.8,1655 307.8,1684 275.8,1684" fill="#2d828c"/>
<line x1="503" y1="1671.5" x2="568" y2="1671.5" stroke="#38ad2c" stroke-width="1.2" />
<polygon points="535.5,1690 552.5,1661 518.5,1661" fill="#38ad2c"/>
<line x1="259" y1="1709.7" x2="324" y2="1709.7" stroke="#658892" stroke-width="1.2" />
<polygon points="291.8,1693.2 308.3,1709.7 291.8,1726.2 275.3,1709.7" fill="#658892"/>
<line x1="262" y1="1748" x2="323" y2="1748" stroke="#7d9b1e" stroke-width="1.2" />
<polygon points="272.8,1748 302.8,1732.5 302.8,1763.5" fill="#7d9b1e"/>
<line x1="259" y1="1784.5" x2="323" y2="1784.5" stroke="#4bbe8c" stroke-width="1.2" />
<polygon points="307.8,1784.5 279.8,1769 279.8,1800" fill="#4bbe8c"/>
<line x1="505" y1="1784.5" x2="571" y2="1784.5" stroke="#4e7228" stroke-width="1.2" />
<polygon points="539.5,1769 526.1,1776.8 526.1,1792.2 539.5,1800 552.9,1792.2 552.9,1776.8" fill="#4e7228"/>
<text x="331" y="1646" font-size="29" text-anchor="start" font-weight="bold" >This work</text>
<text x="576.5" y="1646" font-size="29" text-anchor="start" font-weight="bold" >MSC</text>
<text x="331" y="1683" font-size="29" text-anchor="start" font-weight="bold" >Textile MSC</text>
<text x="576.5" y="1683" font-size="29" text-anchor="start" font-weight="bold" >WSSs</text>
<text x="331" y="1721" font-size="29" text-anchor="start" font-weight="bold" >3D GP-MSC</text>
<text x="331" y="1759.5" font-size="29" text-anchor="start" font-weight="bold" >3D-graphene/graphite</text>
<text x="331" y="1796" font-size="29" text-anchor="start" font-weight="bold" >PPy@CNTs</text>
<text x="576.5" y="1796" font-size="29" text-anchor="start" font-weight="bold" >GFSC</text>
<rect x="141.3" y="1446.4" width="656.7" height="564.8" fill="none" stroke="#000" stroke-width="2"/>
<text transform="translate(853.2 1451.8) scale(0.9 1)" font-size="38" font-weight="bold">(f)</text>
<line x1="981.8" y1="1947.9" x2="993.3" y2="1947.9" stroke="#000" stroke-width="2" />
<line x1="981.8" y1="1884.9" x2="993.3" y2="1884.9" stroke="#000" stroke-width="2" />
<line x1="981.8" y1="1821.8" x2="993.3" y2="1821.8" stroke="#000" stroke-width="2" />
<line x1="981.8" y1="1758.7" x2="993.3" y2="1758.7" stroke="#000" stroke-width="2" />
<line x1="981.8" y1="1695.6" x2="993.3" y2="1695.6" stroke="#000" stroke-width="2" />
<line x1="981.8" y1="1632.5" x2="993.3" y2="1632.5" stroke="#000" stroke-width="2" />
<line x1="981.8" y1="1569.5" x2="993.3" y2="1569.5" stroke="#000" stroke-width="2" />
<line x1="981.8" y1="1506.4" x2="993.3" y2="1506.4" stroke="#000" stroke-width="2" />
<text x="975" y="2023.2" font-size="34" text-anchor="end">8</text>
<text transform="translate(943.3 2023.2) scale(1.37 1)" font-size="34" text-anchor="middle">−</text>
<text x="975" y="1960.1" font-size="34" text-anchor="end">6</text>
<text transform="translate(943.3 1960.1) scale(1.37 1)" font-size="34" text-anchor="middle">−</text>
<text x="975" y="1897.1" font-size="34" text-anchor="end">4</text>
<text transform="translate(943.3 1897.1) scale(1.37 1)" font-size="34" text-anchor="middle">−</text>
<text x="975" y="1834" font-size="34" text-anchor="end">2</text>
<text transform="translate(943.3 1834) scale(1.37 1)" font-size="34" text-anchor="middle">−</text>
<text x="975" y="1770.9" font-size="34" text-anchor="end" font-weight="normal" >0</text>
<text x="975" y="1707.8" font-size="34" text-anchor="end" font-weight="normal" >2</text>
<text x="975" y="1644.7" font-size="34" text-anchor="end" font-weight="normal" >4</text>
<text x="975" y="1581.7" font-size="34" text-anchor="end" font-weight="normal" >6</text>
<text x="975" y="1518.6" font-size="34" text-anchor="end" font-weight="normal" >8</text>
<text x="975" y="1455.5" font-size="34" text-anchor="end" font-weight="normal" >10</text>
<line x1="1035.5" y1="2012" x2="1035.5" y2="1998" stroke="#000" stroke-width="2" />
<text x="1035.5" y="2048" font-size="34" text-anchor="middle" font-weight="normal" >0.0</text>
<line x1="1144.7" y1="2012" x2="1144.7" y2="1998" stroke="#000" stroke-width="2" />
<text x="1144.7" y="2048" font-size="34" text-anchor="middle" font-weight="normal" >0.2</text>
<line x1="1253.8" y1="2012" x2="1253.8" y2="1998" stroke="#000" stroke-width="2" />
<text x="1253.8" y="2048" font-size="34" text-anchor="middle" font-weight="normal" >0.4</text>
<line x1="1363" y1="2012" x2="1363" y2="1998" stroke="#000" stroke-width="2" />
<text x="1363" y="2048" font-size="34" text-anchor="middle" font-weight="normal" >0.6</text>
<line x1="1472.1" y1="2012" x2="1472.1" y2="1998" stroke="#000" stroke-width="2" />
<text x="1472.1" y="2048" font-size="34" text-anchor="middle" font-weight="normal" >0.8</text>
<line x1="1581.3" y1="2012" x2="1581.3" y2="1998" stroke="#000" stroke-width="2" />
<text x="1581.3" y="2048" font-size="34" text-anchor="middle" font-weight="normal" >1.0</text>
<text x="1307.7" y="2090" font-size="34" text-anchor="middle" font-weight="normal" >Potential (V)</text>
<text transform="translate(916 1723.5) rotate(-90)" font-size="34" text-anchor="middle">Current density (mA cm<tspan font-size="22" dy="-14">−2</tspan><tspan dy="14">)</tspan></text>
<defs>
<pattern id="dots" patternUnits="userSpaceOnUse" width="5" height="5" x="1" y="1">
<rect width="5" height="5" fill="#a6eac6"/>
<rect width="5" height="1.4" fill="#4a8c64"/>
<rect width="1.4" height="5" fill="#4a8c64"/>
</pattern>
</defs>
<path d="M1033.7 1962.5C1033.7 1957.1 1033.5 1939.5 1033.8 1930C1034.1 1920.5 1034.6 1917 1035.3 1905.4C1036 1893.8 1037 1875.5 1038 1860.5C1039 1845.5 1040.1 1829.1 1041.6 1815.6C1043.1 1802.1 1045.2 1790.1 1047 1779.6C1048.8 1769.1 1050.2 1761.7 1052.3 1752.7C1054.4 1743.7 1056.8 1733.8 1059.5 1725.7C1062.2 1717.6 1065.2 1711.1 1068.5 1704.2C1071.8 1697.3 1074.8 1690.7 1079.3 1684.4C1083.8 1678.1 1089.4 1671.9 1095.4 1666.5C1101.4 1661.1 1107.4 1656.6 1115.2 1652.1C1123 1647.6 1132.5 1643.1 1142.1 1639.5C1151.7 1635.9 1163.1 1633 1172.7 1630.5C1182.3 1628 1190.4 1626.5 1199.6 1624.5C1208.8 1622.5 1214.6 1620.7 1228 1618.5C1241.4 1616.3 1263.4 1613.5 1280 1611.5C1296.6 1609.5 1307.6 1607.8 1327.6 1606.5C1347.6 1605.2 1382 1604.3 1400 1603.5C1418 1602.7 1423.9 1603 1435.9 1601.7C1447.9 1600.4 1459.8 1597.8 1471.8 1595.4C1483.8 1593 1497.2 1590.3 1507.7 1587.3C1518.2 1584.3 1526.2 1581.5 1534.6 1577.5C1543 1573.5 1551.7 1567.9 1558 1563.1C1564.3 1558.3 1568.5 1553.2 1572.4 1548.7C1576.3 1544.2 1579.8 1538.3 1581.3 1536.2C1581.3 1542.2 1582 1561.4 1581.3 1572C1580.6 1582.6 1578 1591.2 1577 1600C1576 1608.8 1575.8 1611.4 1575 1625C1574.2 1638.6 1573.7 1666.2 1572.4 1681.6C1571.1 1697 1569.1 1706.9 1567 1717.5C1564.9 1728.1 1562 1737.9 1560 1745C1558 1752.1 1556.9 1754.2 1555.2 1760C1553.5 1765.8 1551.9 1773.9 1549.9 1780C1547.9 1786.1 1545.4 1791.6 1543.2 1796.6C1541 1801.6 1539.4 1805.1 1536.6 1809.9C1533.8 1814.7 1530.5 1820.8 1526.6 1825.2C1522.7 1829.7 1517.7 1833.4 1513.3 1836.6C1508.9 1839.8 1504.4 1842.5 1500 1844.6C1495.6 1846.7 1491.6 1847.5 1486.7 1849.2C1481.8 1850.9 1480.6 1851.7 1470.7 1854.5C1460.8 1857.3 1441.7 1862.4 1427.2 1866C1412.7 1869.6 1403 1871.8 1383.6 1876C1364.2 1880.2 1327.8 1887.1 1310.8 1891C1293.8 1894.9 1290.2 1896.9 1281.7 1899.6C1273.2 1902.3 1267.3 1904.3 1260 1907C1252.7 1909.7 1246.5 1912.8 1238 1916C1229.5 1919.2 1217.3 1923.5 1209 1926C1200.7 1928.5 1197.3 1929.5 1188.4 1931C1179.5 1932.5 1166.6 1933.4 1155.7 1934.7C1144.8 1936 1133.9 1937.4 1123 1939C1112.1 1940.6 1101.3 1942 1090.4 1944.5C1079.5 1947 1067.2 1951.3 1057.7 1954.3C1048.2 1957.3 1037.7 1961.1 1033.7 1962.5" fill="none" stroke="#c8287c" stroke-width="3" stroke-linejoin="round"/>
<path d="M1034.8 1954.3C1034.9 1946.2 1034.8 1921 1035.3 1905.4C1035.8 1889.8 1037 1875.5 1038 1860.5C1039 1845.5 1040.1 1829.1 1041.6 1815.6C1043.1 1802.1 1045.2 1790.1 1047 1779.6C1048.8 1769.1 1050.2 1761.7 1052.3 1752.7C1054.4 1743.7 1056.8 1733.8 1059.5 1725.7C1062.2 1717.6 1065.2 1711.1 1068.5 1704.2C1071.8 1697.3 1074.8 1690.7 1079.3 1684.4C1083.8 1678.1 1089.4 1671.9 1095.4 1666.5C1101.4 1661.1 1107.4 1656.6 1115.2 1652.1C1123 1647.6 1132.5 1643.1 1142.1 1639.5C1151.7 1635.9 1163.1 1632.9 1172.7 1630.5C1182.3 1628.1 1190.4 1626.9 1199.6 1625.1C1208.8 1623.3 1214.6 1621.2 1228 1619.5C1241.4 1617.8 1263.4 1616.1 1280 1615C1296.6 1613.9 1307.6 1613.4 1327.6 1613C1347.6 1612.6 1379 1612.7 1400 1612.5C1421 1612.3 1438.9 1612.3 1453.9 1611.6C1468.9 1610.8 1477.8 1610.1 1489.8 1608C1501.8 1605.9 1515.2 1602.3 1525.7 1599C1536.2 1595.7 1545.1 1591.5 1552.6 1588.2C1560.1 1584.9 1566 1581.6 1570.6 1579.2C1575.2 1576.8 1578.8 1574.8 1580.4 1573.9C1580.4 1579.9 1580.6 1598 1580.6 1610C1580.6 1622 1580.9 1633.8 1580.4 1645.7C1579.9 1657.6 1578.9 1669.6 1577.7 1681.6C1576.5 1693.6 1575 1705.5 1573.2 1717.5C1571.4 1729.5 1569.4 1743 1567 1753.4C1564.6 1763.8 1560.9 1773.3 1558.6 1780C1556.3 1786.7 1555.2 1788.9 1553.2 1793.3C1551.2 1797.7 1548.8 1802.4 1546.6 1806.6C1544.4 1810.8 1542.4 1814.9 1539.9 1818.6C1537.5 1822.3 1535.2 1825.3 1531.9 1828.6C1528.6 1831.9 1524.1 1835.6 1519.9 1838.6C1515.7 1841.6 1511 1844.4 1506.6 1846.6C1502.2 1848.8 1497.7 1850.4 1493.3 1851.9C1488.9 1853.5 1483.8 1854.8 1480 1855.9C1476.2 1857 1479.5 1856.5 1470.7 1858.5C1461.9 1860.5 1441.7 1864.9 1427.2 1867.9C1412.7 1870.9 1398.2 1873.9 1383.6 1876.6C1369 1879.2 1351.9 1881.4 1339.8 1883.8C1327.7 1886.2 1320.5 1888.2 1310.8 1890.8C1301.1 1893.4 1291.4 1896.7 1281.7 1899.6C1272 1902.5 1262.3 1905.4 1252.6 1908.3C1242.9 1911.2 1231.6 1914.7 1223.6 1917C1215.6 1919.3 1212.1 1920.8 1204.8 1922.2C1197.5 1923.7 1188.2 1924.7 1180 1925.7C1171.8 1926.7 1165.2 1927 1155.7 1928.1C1146.2 1929.2 1133.9 1930.9 1123 1932.5C1112.1 1934.1 1101.3 1935.7 1090.4 1937.9C1079.5 1940.1 1067 1942.9 1057.7 1945.6C1048.4 1948.3 1038.6 1952.8 1034.8 1954.3Z" fill="url(#dots)" opacity="0.93"/>
<path d="M1581.3 1572C1580.6 1576.7 1578 1591.2 1577 1600C1576 1608.8 1575.8 1611.4 1575 1625C1574.2 1638.6 1573.7 1666.2 1572.4 1681.6C1571.1 1697 1569.1 1706.9 1567 1717.5C1564.9 1728.1 1562 1737.9 1560 1745C1558 1752.1 1556.9 1754.2 1555.2 1760C1553.5 1765.8 1551.9 1773.9 1549.9 1780C1547.9 1786.1 1545.4 1791.6 1543.2 1796.6C1541 1801.6 1539.4 1805.1 1536.6 1809.9C1533.8 1814.7 1530.5 1820.8 1526.6 1825.2C1522.7 1829.7 1517.7 1833.4 1513.3 1836.6C1508.9 1839.8 1504.4 1842.5 1500 1844.6C1495.6 1846.7 1491.6 1847.5 1486.7 1849.2C1481.8 1850.9 1480.6 1851.7 1470.7 1854.5C1460.8 1857.3 1441.7 1862.4 1427.2 1866C1412.7 1869.6 1390.9 1874.3 1383.6 1876" fill="none" stroke="#707272" stroke-width="2.6" opacity="0.9"/>
<path d="M1034.8 1954.3C1034.9 1946.2 1034.8 1921 1035.3 1905.4C1035.8 1889.8 1037 1875.5 1038 1860.5C1039 1845.5 1040.1 1829.1 1041.6 1815.6C1043.1 1802.1 1045.2 1790.1 1047 1779.6C1048.8 1769.1 1050.2 1761.7 1052.3 1752.7C1054.4 1743.7 1056.8 1733.8 1059.5 1725.7C1062.2 1717.6 1065.2 1711.1 1068.5 1704.2C1071.8 1697.3 1074.8 1690.7 1079.3 1684.4C1083.8 1678.1 1089.4 1671.9 1095.4 1666.5C1101.4 1661.1 1107.4 1656.6 1115.2 1652.1C1123 1647.6 1132.5 1643.1 1142.1 1639.5C1151.7 1635.9 1163.1 1632.9 1172.7 1630.5C1182.3 1628.1 1190.4 1626.9 1199.6 1625.1C1208.8 1623.3 1214.6 1621.2 1228 1619.5C1241.4 1617.8 1263.4 1616.1 1280 1615C1296.6 1613.9 1307.6 1613.4 1327.6 1613C1347.6 1612.6 1379 1612.7 1400 1612.5C1421 1612.3 1438.9 1612.3 1453.9 1611.6C1468.9 1610.8 1477.8 1610.1 1489.8 1608C1501.8 1605.9 1515.2 1602.3 1525.7 1599C1536.2 1595.7 1545.1 1591.5 1552.6 1588.2C1560.1 1584.9 1566 1581.6 1570.6 1579.2C1575.2 1576.8 1578.8 1574.8 1580.4 1573.9C1580.4 1579.9 1580.6 1598 1580.6 1610C1580.6 1622 1580.9 1633.8 1580.4 1645.7C1579.9 1657.6 1578.9 1669.6 1577.7 1681.6C1576.5 1693.6 1575 1705.5 1573.2 1717.5C1571.4 1729.5 1569.4 1743 1567 1753.4C1564.6 1763.8 1560.9 1773.3 1558.6 1780C1556.3 1786.7 1555.2 1788.9 1553.2 1793.3C1551.2 1797.7 1548.8 1802.4 1546.6 1806.6C1544.4 1810.8 1542.4 1814.9 1539.9 1818.6C1537.5 1822.3 1535.2 1825.3 1531.9 1828.6C1528.6 1831.9 1524.1 1835.6 1519.9 1838.6C1515.7 1841.6 1511 1844.4 1506.6 1846.6C1502.2 1848.8 1497.7 1850.4 1493.3 1851.9C1488.9 1853.5 1483.8 1854.8 1480 1855.9C1476.2 1857 1479.5 1856.5 1470.7 1858.5C1461.9 1860.5 1441.7 1864.9 1427.2 1867.9C1412.7 1870.9 1398.2 1873.9 1383.6 1876.6C1369 1879.2 1351.9 1881.4 1339.8 1883.8C1327.7 1886.2 1320.5 1888.2 1310.8 1890.8C1301.1 1893.4 1291.4 1896.7 1281.7 1899.6C1272 1902.5 1262.3 1905.4 1252.6 1908.3C1242.9 1911.2 1231.6 1914.7 1223.6 1917C1215.6 1919.3 1212.1 1920.8 1204.8 1922.2C1197.5 1923.7 1188.2 1924.7 1180 1925.7C1171.8 1926.7 1165.2 1927 1155.7 1928.1C1146.2 1929.2 1133.9 1930.9 1123 1932.5C1112.1 1934.1 1101.3 1935.7 1090.4 1937.9C1079.5 1940.1 1067 1942.9 1057.7 1945.6C1048.4 1948.3 1038.6 1952.8 1034.8 1954.3Z" fill="none" stroke="#3f9159" stroke-width="2.8" stroke-linejoin="round"/>
<text x="1290" y="1764" font-size="34" text-anchor="start" font-weight="bold" >96%</text>
<line x1="1387.3" y1="1906.6" x2="1466.9" y2="1906.6" stroke="#c8287c" stroke-width="3.5" />
<rect x="1388.3" y="1931.5" width="77.7" height="37.3" fill="url(#dots)" stroke="#3f9159" stroke-width="1"/>
<text x="1474" y="1914" font-size="33" text-anchor="start" font-weight="bold" >1st</text>
<text x="1474" y="1960" font-size="33" text-anchor="start" font-weight="bold" >5000th</text>
<rect x="981.8" y="1443.3" width="655.2" height="568.7" fill="none" stroke="#000" stroke-width="2"/>
</svg>
</body></html>
